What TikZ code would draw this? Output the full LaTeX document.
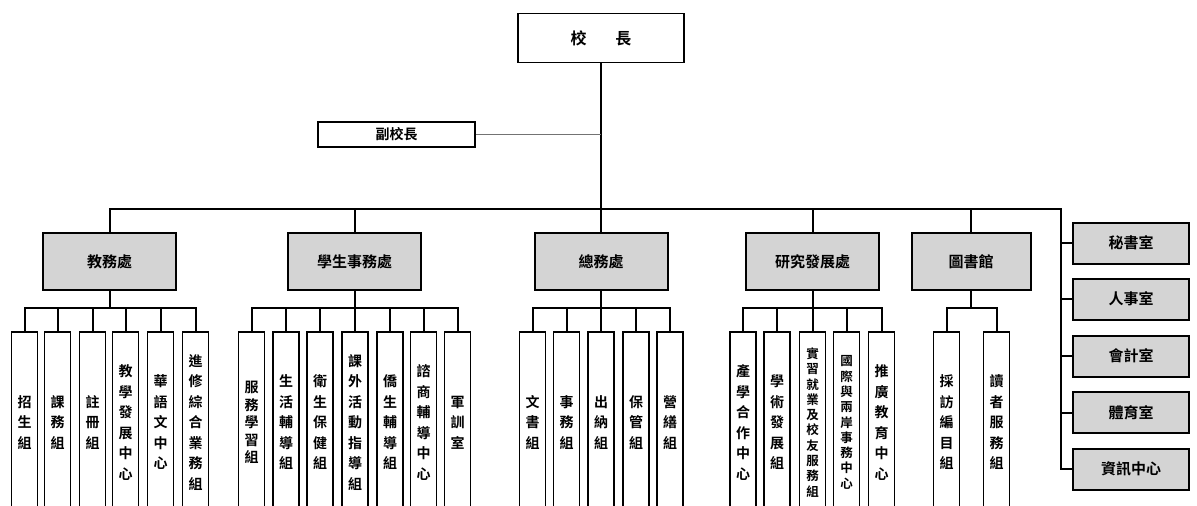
\documentclass[tikz,border=0pt]{standalone}
\usepackage{fontspec}
\newfontfamily\cjk{Noto Sans CJK TC}[BoldFont={Noto Sans CJK TC Bold}]
\begin{document}
\begin{tikzpicture}[x=1pt,y=-1pt,
  ln/.style={line width=2pt, black},
  faint/.style={line width=0.8pt, black!55},
  topbox/.style={draw, line width=1.3pt, fill=white, inner sep=0pt, minimum width=166pt, minimum height=49pt, font=\cjk\bfseries\fontsize{16}{16}\selectfont},
  vpbox/.style={draw, line width=1.5pt, fill=white, inner sep=0pt, minimum width=157pt, minimum height=25pt, font=\cjk\bfseries\fontsize{14}{14}\selectfont},
  dept/.style={draw, line width=2pt, fill=black!17, inner sep=0pt, minimum width=133pt, minimum height=57pt, font=\cjk\bfseries\fontsize{15}{15}\selectfont},
  office/.style={draw, line width=2pt, fill=black!17, inner sep=0pt, minimum width=116pt, minimum height=41pt, font=\cjk\bfseries\fontsize{15}{15}\selectfont},
  kid/.style={draw, line width=1.8pt, fill=white, inner sep=0pt, minimum width=26pt, minimum height=181pt, anchor=north, align=center, font=\cjk\bfseries\fontsize{14}{20.5}\selectfont},
  kidlong/.style={kid, font=\cjk\bfseries\fontsize{12.5}{15.3}\selectfont},
]
\clip (0,0) rectangle (1197,506);
\fill[white] (0,0) rectangle (1197,506);

\coordinate (mb) at (0,209);
\coordinate (sb) at (0,308);

% top
\node[topbox] (top) at (601,38) {校\hspace{29pt}長};
\node[vpbox] (vp) at (396.5,134.5) {副校長};

% departments
\node[dept] (d1) at (109.5,261.5) {教務處};
\node[dept] (d2) at (354.5,261.5) {學生事務處};
\node[dept] (d3) at (601,261.5) {總務處};
\node[dept] (d4) at (812.5,261.5) {研究發展處};
\node[dept, minimum width=119pt] (d5) at (971,261.5) {圖書館};

% offices
\node[office] (o1) at (1131,243) {秘書室};
\node[office] (o2) at (1131,299) {人事室};
\node[office] (o3) at (1131,356) {會計室};
\node[office] (o4) at (1131,412.5) {體育室};
\node[office] (o5) at (1131,469) {資訊中心};
\coordinate (re) at (1061,209);

% children of 教務處
\node[kid] (a1) at (24.5,331) {招\\生\\組};
\node[kid] (a2) at (57.5,331) {課\\務\\組};
\node[kid] (a3) at (92.5,331) {註\\冊\\組};
\node[kid] (a4) at (125.5,331) {教\\學\\發\\展\\中\\心};
\node[kid] (a5) at (160.5,331) {華\\語\\文\\中\\心};
\node[kid] (a6) at (195.5,331) {進\\修\\綜\\合\\業\\務\\組};

% children of 學生事務處
\node[kid, font=\cjk\bfseries\fontsize{14}{17.5}\selectfont] (b1) at (251.5,331) {服\\務\\學\\習\\組};
\node[kid] (b2) at (286,331) {生\\活\\輔\\導\\組};
\node[kid] (b3) at (320,331) {衛\\生\\保\\健\\組};
\node[kid] (b4) at (355,331) {課\\外\\活\\動\\指\\導\\組};
\node[kid] (b5) at (390,331) {僑\\生\\輔\\導\\組};
\node[kid] (b6) at (423.5,331) {諮\\商\\輔\\導\\中\\心};
\node[kid] (b7) at (457.5,331) {軍\\訓\\室};

% children of 總務處
\node[kid] (c1) at (532.5,331) {文\\書\\組};
\node[kid] (c2) at (566.5,331) {事\\務\\組};
\node[kid] (c3) at (601,331) {出\\納\\組};
\node[kid] (c4) at (636,331) {保\\管\\組};
\node[kid] (c5) at (670,331) {營\\繕\\組};

% children of 研究發展處
\node[kid] (e1) at (743,331) {產\\學\\合\\作\\中\\心};
\node[kid] (e2) at (777,331) {學\\術\\發\\展\\組};
\node[kidlong] (e3) at (812.5,331) {實\\習\\就\\業\\及\\校\\友\\服\\務\\組};
\node[kidlong] (e4) at (846.5,331) {國\\際\\與\\兩\\岸\\事\\務\\中\\心};
\node[kid] (e5) at (881.5,331) {推\\廣\\教\\育\\中\\心};

% children of 圖書館
\node[kid] (f1) at (946.5,331) {採\\訪\\編\\目\\組};
\node[kid] (f2) at (996.5,331) {讀\\者\\服\\務\\組};

% main connectors
\draw[ln] (top.south) -- (top.south |- mb);
\draw[faint] (vp.east) -- (vp.east -| top.south);
\draw[ln] (d1.north) -- (d1.north |- mb) -- (re) |- (o5.west);
\foreach \d in {d2,d3,d4,d5} \draw[ln] (\d.north) -- (\d.north |- mb);
\foreach \o in {o1,o2,o3,o4} \draw[ln] (\o.west) -- (\o.west -| re);

% sub connectors
\draw[ln] (d1.south) -- (d1.south |- sb);
\draw[ln] (a1.north) |- (a6.north |- sb) -- (a6.north);
\foreach \k in {a2,a3,a4,a5} \draw[ln] (\k.north) -- (\k.north |- sb);

\draw[ln] (d2.south) -- (d2.south |- sb);
\draw[ln] (b1.north) |- (b7.north |- sb) -- (b7.north);
\foreach \k in {b2,b3,b4,b5,b6} \draw[ln] (\k.north) -- (\k.north |- sb);

\draw[ln] (d3.south) -- (d3.south |- sb);
\draw[ln] (c1.north) |- (c5.north |- sb) -- (c5.north);
\foreach \k in {c2,c3,c4} \draw[ln] (\k.north) -- (\k.north |- sb);

\draw[ln] (d4.south) -- (d4.south |- sb);
\draw[ln] (e1.north) |- (e5.north |- sb) -- (e5.north);
\foreach \k in {e2,e3,e4} \draw[ln] (\k.north) -- (\k.north |- sb);

\draw[ln] (d5.south) -- (d5.south |- sb);
\draw[ln] (f1.north) |- (f2.north |- sb) -- (f2.north);
\end{tikzpicture}
\end{document}
